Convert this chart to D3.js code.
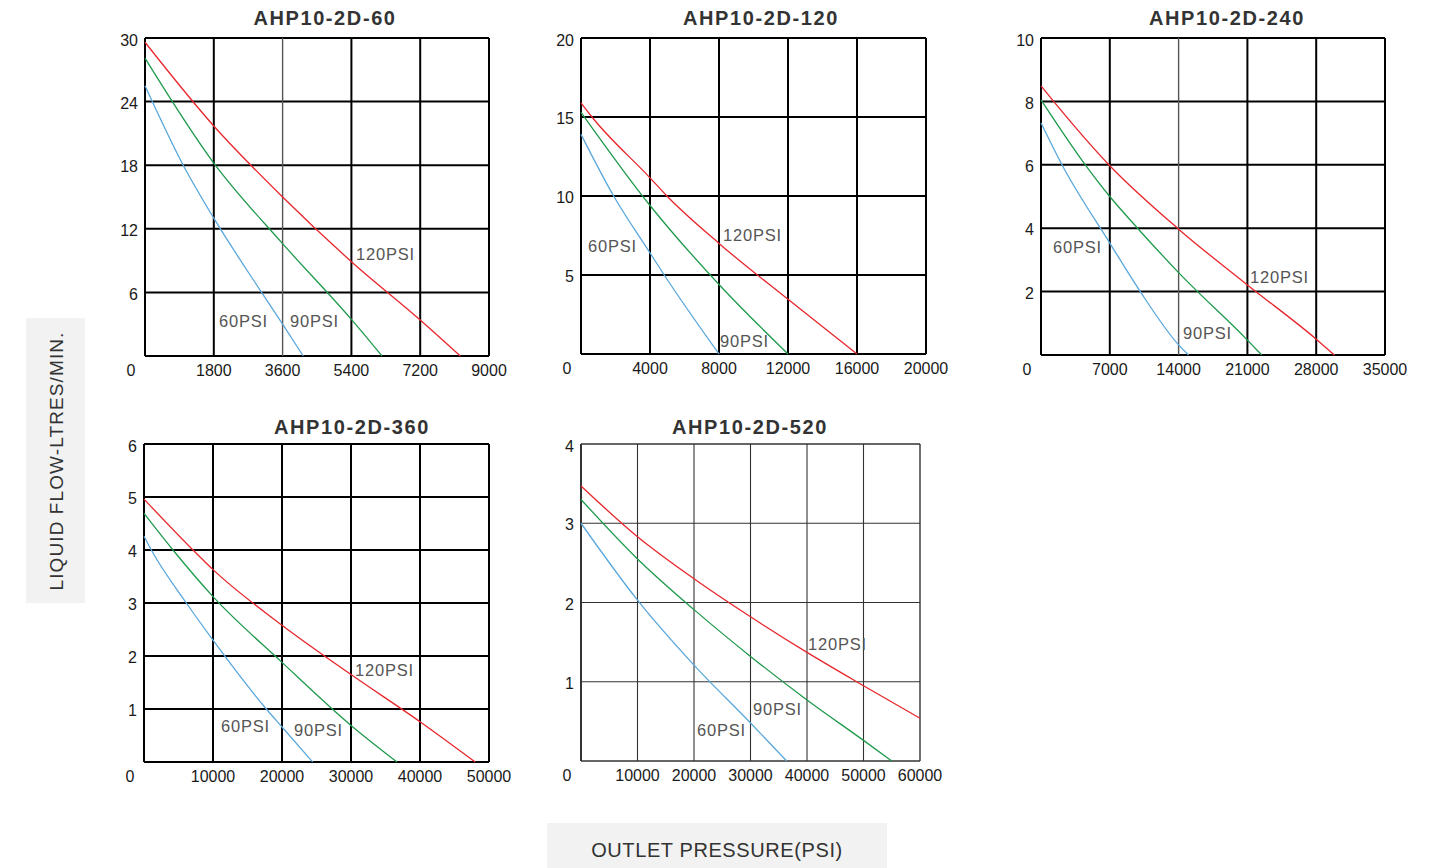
<!DOCTYPE html>
<html><head><meta charset="utf-8">
<script src="https://cdn.jsdelivr.net/npm/d3@7"></script>
<style>
html,body{margin:0;padding:0;background:#fff;}
svg{display:block;font-family:"Liberation Sans",Arial,sans-serif;}
</style></head>
<body>
<svg id="chart" width="1446" height="868"></svg>
<script>
// ---------- DATA ----------
const titles = ["AHP10-2D-60","AHP10-2D-120","AHP10-2D-240","AHP10-2D-360","AHP10-2D-520"];
const seriesNames = ["60PSI","90PSI","120PSI"];
const xMaxes = [9000, 20000, 35000, 50000, 60000];
const xSteps = [1800, 4000, 7000, 10000, 10000];
const yMaxes = [30, 20, 10, 6, 4];
const ySteps = [6, 5, 2, 1, 1];

// [pressure (PSI), flow (L/min)]
const ahp60_60psi  = [[0,25.5],[1000,18.0],[1800,13.0],[3050,6.0],[3600,3.0],[4140,0]];
const ahp60_90psi  = [[0,28.1],[1800,18.2],[3600,10.6],[5400,3.45],[6200,0]];
const ahp60_120psi = [[0,29.6],[1800,21.7],[3600,15.0],[5400,8.9],[7200,3.4],[8250,0]];

const ahp120_60psi  = [[0,13.9],[1892,10.0],[4000,6.4],[4826,5.0],[8000,0]];
const ahp120_90psi  = [[0,15.3],[4000,9.4],[8000,4.4],[12000,0]];
const ahp120_120psi = [[0,15.9],[637,15.0],[4000,11.15],[4981,10.0],[8000,7.0],[12000,3.46],[16000,0]];

const ahp240_60psi  = [[0,7.32],[2135,6.0],[7000,3.53],[10100,2.0],[14000,0.32],[15010,0]];
const ahp240_90psi  = [[0,8.05],[4506,6.0],[7000,5.0],[9826,4.0],[14000,2.6],[21000,0.47],[22460,0]];
const ahp240_120psi = [[0,8.49],[1287,8.0],[7000,5.97],[14000,3.97],[21000,2.21],[28000,0.5],[29850,0]];

const ahp360_60psi  = [[0,4.26],[1060,4.0],[6135,3.0],[10000,2.30],[17730,1.0],[20000,0.66],[24440,0]];
const ahp360_90psi  = [[0,4.69],[4200,4.0],[10000,3.12],[20000,1.88],[30000,0.69],[36670,0]];
const ahp360_120psi = [[0,4.96],[7100,4.0],[10000,3.63],[20000,2.58],[30000,1.65],[40000,0.76],[48000,0]];

const ahp520_60psi  = [[0,3.0],[10000,2.03],[20000,1.21],[30000,0.48],[36400,0]];
const ahp520_90psi  = [[0,3.30],[10000,2.55],[20000,1.91],[30000,1.32],[40000,0.77],[50000,0.26],[55000,0]];
const ahp520_120psi = [[0,3.47],[10000,2.83],[20000,2.30],[30000,1.82],[40000,1.37],[50000,0.95],[60000,0.54]];

const panelSeries = [
  [ahp60_60psi, ahp60_90psi, ahp60_120psi],
  [ahp120_60psi, ahp120_90psi, ahp120_120psi],
  [ahp240_60psi, ahp240_90psi, ahp240_120psi],
  [ahp360_60psi, ahp360_90psi, ahp360_120psi],
  [ahp520_60psi, ahp520_90psi, ahp520_120psi]
];

// curve label anchor points in data units [x, y] for 60/90/120 PSI
const labelPos = [
  [[1936,3.11],[3794,3.11],[5520,9.43]],
  [[406,6.71],[8058,0.70],[8232,7.41]],
  [[1221,3.34],[14446,0.63],[21262,2.40]],
  [[11160,0.64],[21740,0.58],[30580,1.70]],
  [[20531,0.37],[30442,0.63],[40177,1.46]]
];

const yAxisTitle = "LIQUID FLOW-LTRES/MIN.";
const xAxisTitle = "OUTLET PRESSURE(PSI)";

// ---------- LAYOUT ----------
const frames = [
  {l:145, r:489, t:38, b:356, ty:20},
  {l:581, r:926, t:38, b:354, ty:20},
  {l:1041, r:1385, t:38, b:355, ty:20},
  {l:144, r:489, t:444, b:762, ty:429},
  {l:581, r:920, t:444, b:761, ty:429}
];
const titleCx = [325, 761, 1227, 352, 750];
const colors = ["#5aa8dc", "#1f9a4c", "#e8262c"];
const thinLines = {0:[3600], 2:[14000]};

const svg = d3.select("#chart");

frames.forEach((f, i) => {
  const x = d3.scaleLinear().domain([0, xMaxes[i]]).range([f.l, f.r]);
  const y = d3.scaleLinear().domain([0, yMaxes[i]]).range([f.b, f.t]);
  const g = svg.append("g");
  const xt = d3.range(0, xMaxes[i] + 1, xSteps[i]);
  const yt = d3.range(0, yMaxes[i] + 0.001, ySteps[i]);
  const light = (i === 4);
  const gridW = light ? 1.1 : 2;
  const gridC = light ? "#333" : "#000";

  g.selectAll(".hg").data(yt).enter().append("line")
    .attr("x1", f.l).attr("x2", f.r)
    .attr("y1", d => y(d)).attr("y2", d => y(d))
    .attr("stroke", gridC).attr("stroke-width", (d) => (light && (d===0||d===yMaxes[i])) ? 1.4 : gridW);
  g.selectAll(".vg").data(xt).enter().append("line")
    .attr("y1", f.t).attr("y2", f.b)
    .attr("x1", d => x(d)).attr("x2", d => x(d))
    .attr("stroke", d => (thinLines[i] && thinLines[i].includes(d)) ? "#555" : gridC)
    .attr("stroke-width", d => (thinLines[i] && thinLines[i].includes(d)) ? 1.4 : (light && d===0 ? 2 : (light && d===xMaxes[i] ? 1.4 : gridW)));

  const line = d3.line().x(d => x(d[0])).y(d => y(d[1])).curve(d3.curveMonotoneX);
  panelSeries[i].forEach((s, k) => {
    g.append("path").attr("d", line(s)).attr("fill", "none")
      .attr("stroke", colors[k]).attr("stroke-width", 1.3);
  });

  labelPos[i].forEach((p, k) => {
    g.append("text").attr("x", x(p[0])).attr("y", y(p[1]))
      .attr("dominant-baseline", "middle")
      .attr("font-size", 16.5).attr("letter-spacing", "0.8px")
      .attr("fill", "#555").text(seriesNames[k]);
  });

  g.selectAll(".xl").data(xt.filter(d => d > 0)).enter().append("text")
    .attr("x", d => x(d)).attr("y", f.b + 16)
    .attr("text-anchor", "middle").attr("dominant-baseline", "middle")
    .attr("font-size", 16).attr("fill", "#1a1a1a").text(d => d);
  g.selectAll(".yl").data(yt.filter(d => d > 0)).enter().append("text")
    .attr("x", f.l - 7).attr("y", d => Math.max(y(d) + 3, f.t + 4))
    .attr("text-anchor", "end").attr("dominant-baseline", "middle")
    .attr("font-size", 16).attr("fill", "#1a1a1a").text(d => d);
  g.append("text").attr("x", f.l - 14).attr("y", f.b + 16)
    .attr("text-anchor", "middle").attr("dominant-baseline", "middle")
    .attr("font-size", 16).attr("fill", "#1a1a1a").text(0);

  g.append("text").attr("x", titleCx[i]).attr("y", f.ty)
    .attr("text-anchor", "middle").attr("dominant-baseline", "middle")
    .attr("font-size", 20).attr("font-weight", "bold").attr("letter-spacing", "1.6px")
    .attr("fill", "#333").text(titles[i]);
});

svg.append("rect").attr("x", 26).attr("y", 318).attr("width", 59).attr("height", 285).attr("fill", "#f2f2f2");
svg.append("text").attr("transform", "translate(58,461) rotate(-90)")
  .attr("text-anchor", "middle").attr("dominant-baseline", "middle")
  .attr("font-size", 19).attr("letter-spacing", "1.1px").attr("fill", "#333").text(yAxisTitle);

svg.append("rect").attr("x", 547).attr("y", 823).attr("width", 340).attr("height", 45).attr("fill", "#f2f2f2");
svg.append("text").attr("x", 717).attr("y", 857)
  .attr("text-anchor", "middle")
  .attr("font-size", 20).attr("letter-spacing", "0.6px").attr("fill", "#333").text(xAxisTitle);
</script>
</body></html>
